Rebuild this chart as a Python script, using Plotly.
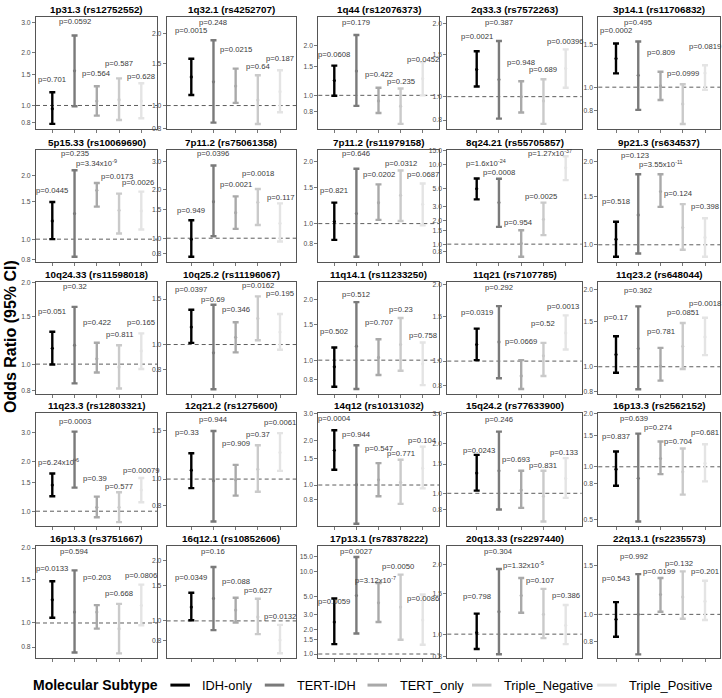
import math
import plotly.graph_objects as go

subtypes = ["IDH-only", "TERT-IDH", "TERT_only", "Triple_Negative", "Triple_Positive"]
colors = ["#000000", "#7a7a7a", "#a9a9a9", "#cacaca", "#e4e4e4"]

titles = [
    "1p31.3 (rs12752552)", "1q32.1 (rs4252707)", "1q44 (rs12076373)", "2q33.3 (rs7572263)", "3p14.1 (rs11706832)",
    "5p15.33 (rs10069690)", "7p11.2 (rs75061358)", "7p11.2 (rs11979158)", "8q24.21 (rs55705857)", "9p21.3 (rs634537)",
    "10q24.33 (rs11598018)", "10q25.2 (rs11196067)", "11q14.1 (rs11233250)", "11q21 (rs7107785)", "11q23.2 (rs648044)",
    "11q23.3 (rs12803321)", "12q21.2 (rs1275600)", "14q12 (rs10131032)", "15q24.2 (rs77633900)", "16p13.3 (rs2562152)",
    "16p13.3 (rs3751667)", "16q12.1 (rs10852606)", "17p13.1 (rs78378222)", "20q13.33 (rs2297440)", "22q13.1 (rs2235573)",
]

odds = [
    [0.957, 1.58, 1.06, 1.08, 1.06], [1.318, 1.257, 1.206, 1.055, 1.143], [1.227, 1.40, 0.925, 0.861, 1.26],
    [1.297, 1.177, 1.0, 0.96, 1.309], [1.312, 1.119, 1.012, 0.853, 1.144],
    [1.219, 1.319, 1.698, 1.367, 1.358], [0.986, 1.686, 1.441, 1.67, 1.238], [1.023, 1.118, 1.264, 1.371, 1.24],
    [4.96, 3.32, 1.02, 2.05, 9.08], [1.048, 1.283, 1.559, 1.155, 1.063],
    [1.145, 1.175, 1.046, 0.975, 1.119], [1.169, 0.929, 1.067, 1.262, 1.118], [0.927, 1.172, 1.031, 1.194, 0.959],
    [1.162, 1.19, 0.874, 1.049, 1.29], [1.116, 1.178, 1.006, 1.202, 1.307],
    [1.442, 2.05, 1.057, 1.057, 1.345], [1.078, 0.986, 0.994, 1.087, 1.25], [1.711, 1.005, 1.085, 1.042, 1.298],
    [1.323, 1.366, 1.047, 0.96, 1.229], [0.97, 0.86, 1.114, 0.937, 1.049],
    [1.239, 1.106, 1.106, 0.949, 1.176], [1.173, 1.295, 1.134, 1.047, 0.802], [2.44, 5.1, 4.17, 3.70, 2.58],
    [1.016, 1.249, 1.467, 1.217, 1.092], [0.96, 1.0, 1.178, 1.155, 1.115],
]
lower = [
    [0.784, 0.99, 0.875, 0.826, 0.844], [1.107, 0.848, 1.026, 0.837, 0.938], [0.995, 0.864, 0.782, 0.673, 1.0],
    [1.102, 0.811, 0.86, 0.771, 1.088], [1.14, 0.806, 0.885, 0.705, 0.975],
    [1.0, 0.826, 1.422, 1.063, 1.11], [0.767, 1.029, 1.142, 1.209, 0.954], [0.834, 0.69, 1.042, 1.03, 0.982],
    [3.65, 1.647, 0.695, 1.296, 6.37], [0.905, 0.93, 1.372, 0.959, 0.905],
    [0.997, 0.849, 0.931, 0.813, 0.959], [1.015, 0.671, 0.932, 1.039, 0.954], [0.739, 0.72, 0.844, 0.886, 0.753],
    [1.009, 0.856, 0.777, 0.874, 1.11], [0.948, 0.817, 0.883, 0.98, 1.11],
    [1.232, 1.39, 0.92, 0.859, 1.133], [0.927, 0.70, 0.87, 0.899, 1.072], [1.265, 0.55, 0.84, 0.747, 0.95],
    [1.037, 0.799, 0.817, 0.677, 0.938], [0.781, 0.49, 0.909, 0.695, 0.827],
    [1.05, 0.761, 0.949, 0.755, 0.979], [1.008, 0.899, 0.981, 0.859, 0.689], [1.318, 1.77, 2.44, 1.486, 1.294],
    [0.863, 0.819, 1.237, 0.961, 0.906], [0.831, 0.719, 1.022, 0.965, 0.955],
]
upper = [
    [1.19, 2.52, 1.29, 1.43, 1.34], [1.57, 1.876, 1.427, 1.34, 1.405], [1.51, 2.31, 1.11, 1.10, 1.585],
    [1.541, 1.70, 1.159, 1.181, 1.57], [1.514, 1.543, 1.158, 1.028, 1.232],
    [1.496, 2.11, 1.836, 1.637, 1.673], [1.292, 2.83, 1.82, 2.02, 1.646], [1.264, 1.845, 1.55, 1.81, 1.566],
    [6.68, 6.62, 1.496, 3.32, 12.7], [1.211, 1.80, 1.80, 1.403, 1.248],
    [1.318, 1.628, 1.20, 1.175, 1.30], [1.363, 1.425, 1.219, 1.535, 1.312], [1.154, 1.936, 1.268, 1.615, 1.222],
    [1.342, 1.645, 1.009, 1.179, 1.513], [1.314, 1.718, 1.185, 1.48, 1.552],
    [1.695, 3.04, 1.226, 1.302, 1.589], [1.243, 1.499, 1.127, 1.329, 1.473], [2.327, 1.848, 1.402, 1.476, 1.81],
    [1.702, 2.347, 1.366, 1.366, 1.626], [1.22, 1.541, 1.39, 1.269, 1.342],
    [1.471, 1.627, 1.18, 1.194, 1.426], [1.382, 1.86, 1.305, 1.29, 0.955], [4.70, 14.9, 7.24, 9.12, 5.25],
    [1.225, 1.906, 1.745, 1.566, 1.334], [1.106, 1.394, 1.349, 1.425, 1.32],
]
pvals = [
    ["0.701", "0.0592", "0.564", "0.587", "0.628"], ["0.0015", "0.248", "0.0215", "0.64", "0.187"],
    ["0.0608", "0.179", "0.422", "0.235", "0.0452"], ["0.0021", "0.387", "0.948", "0.689", "0.00396"],
    ["0.0002", "0.495", "0.809", "0.0999", "0.0819"],
    ["0.0445", "0.235", "3.34x10<sup>-9</sup>", "0.0173", "0.0026"], ["0.949", "0.0396", "0.0021", "0.0018", "0.117"],
    ["0.821", "0.646", "0.0202", "0.0312", "0.0687"], ["1.6x10<sup>-24</sup>", "0.0008", "0.954", "0.0025", "1.27x10<sup>-37</sup>"],
    ["0.518", "0.123", "3.55x10<sup>-11</sup>", "0.124", "0.398"],
    ["0.051", "0.32", "0.422", "0.811", "0.165"], ["0.0397", "0.69", "0.346", "0.0162", "0.195"],
    ["0.502", "0.512", "0.707", "0.23", "0.758"], ["0.0319", "0.292", "0.0669", "0.52", "0.0013"],
    ["0.17", "0.362", "0.781", "0.0851", "0.0018"],
    ["6.24x10<sup>-6</sup>", "0.0003", "0.39", "0.577", "0.00079"], ["0.33", "0.944", "0.909", "0.37", "0.0061"],
    ["0.0004", "0.944", "0.547", "0.771", "0.104"], ["0.0243", "0.246", "0.693", "0.831", "0.133"],
    ["0.837", "0.639", "0.274", "0.704", "0.681"],
    ["0.0133", "0.594", "0.203", "0.668", "0.0806"], ["0.0349", "0.16", "0.088", "0.627", "0.0132"],
    ["0.0059", "0.0027", "3.12x10<sup>-7</sup>", "0.0050", "0.0086"], ["0.798", "0.304", "1.32x10<sup>-5</sup>", "0.107", "0.386"],
    ["0.543", "0.992", "0.0199", "0.132", "0.201"],
]
label_y = [
    [1.40, 3.03, 1.53, 1.74, 1.46], [2.06, 2.23, 1.716, 1.464, 1.57], [1.76, 2.75, 1.33, 1.206, 1.65],
    [1.769, 2.03, 1.381, 1.297, 1.70], [1.71, 1.85, 1.392, 1.137, 1.473],
    [1.698, 2.53, 2.29, 1.967, 1.84], [1.49, 3.36, 2.16, 2.51, 1.785], [1.449, 2.19, 1.733, 1.96, 1.733],
    [10.3, 7.87, 1.87, 4.02, 14.0], [1.434, 2.11, 1.957, 1.537, 1.372],
    [1.566, 1.93, 1.427, 1.292, 1.427], [1.632, 1.494, 1.363, 1.691, 1.571], [1.389, 2.10, 1.532, 1.775, 1.317],
    [1.549, 1.95, 1.197, 1.411, 1.645], [1.561, 1.981, 1.374, 1.623, 1.77],
    [2.0, 3.49, 1.58, 1.416, 1.76], [1.478, 1.653, 1.352, 1.45, 1.607], [2.78, 2.19, 1.765, 1.634, 1.975],
    [1.8, 2.78, 1.604, 1.477, 1.758], [1.476, 1.874, 1.681, 1.39, 1.561],
    [1.652, 1.937, 1.53, 1.313, 1.554], [1.652, 2.22, 1.578, 1.425, 1.051], [4.37, 17.4, 7.94, 11.5, 4.70],
    [1.458, 2.268, 1.99, 1.706, 1.467], [1.339, 1.61, 1.425, 1.525, 1.425],
]
y_ranges = [
    (0.731, 3.2), (0.796, 2.34), (0.625, 2.95), (0.733, 2.13), (0.671, 1.94),
    (0.783, 2.62), (0.714, 3.52), (0.653, 2.27), (0.601, 15.1), (0.868, 2.20),
    (0.776, 2.02), (0.644, 1.752), (0.681, 2.446), (0.743, 2.054), (0.784, 2.146),
    (0.816, 3.92), (0.675, 1.738), (0.533, 3.02), (0.638, 3.02), (0.463, 2.007),
    (0.721, 2.047), (0.65, 2.38), (0.887, 20.5), (0.787, 2.405), (0.696, 1.763),
]
tick_vals = [0.5, 0.8, 1.0, 1.5, 2.0, 3.0, 5.0, 10.0, 15.0]
tick_text = ["0.5", "0.8", "1.0", "1.5", "2.0", "3.0", "5.0", "10.0", "15.0"]

# small horizontal nudges (px) of repelled labels
label_dx = {(5, 3): -2, (5, 4): -3, (8, 0): 9, (8, 2): -3, (8, 3): -2, (8, 4): -16,
            (9, 1): -3, (9, 3): -4, (13, 4): -3, (15, 0): 6, (15, 2): -2, (16, 0): -4,
            (18, 0): 2, (18, 2): -5, (18, 4): -2, (19, 1): -4, (19, 2): -2, (19, 3): -4,
            (22, 2): -3, (22, 3): -3, (23, 2): 2, (23, 3): -3, (24, 1): -4, (24, 2): -2, (24, 3): -4}

W, H = 722, 698
col_box = [(36, 157.3), (166.7, 296), (318.3, 439), (447.3, 581.7), (598.3, 720)]
col_bars = [(52.3, 141.3), (191.3, 280), (334.3, 422.7), (476.7, 565.7), (616, 705)]
row_box = [(14.5, 127.3), (148.5, 261), (281, 394.3), (414, 527.3), (547.3, 661)]

FONT = "Liberation Sans, Arial, sans-serif"
fig = go.Figure()
layout = {}
annotations = []
shapes = []

for k in range(25):
    r, c = divmod(k, 5)
    sfx = "" if k == 0 else str(k + 1)
    xa, ya = "x" + sfx, "y" + sfx
    for i in range(5):
        fig.add_trace(go.Scatter(
            x=[i + 1], y=[odds[k][i]], mode="markers",
            marker=dict(color=colors[i], size=3.2),
            error_y=dict(type="data", symmetric=False,
                         array=[upper[k][i] - odds[k][i]],
                         arrayminus=[odds[k][i] - lower[k][i]],
                         color=colors[i], thickness=2.4, width=3),
            xaxis=xa, yaxis=ya, showlegend=False, hoverinfo="skip"))
    x0, x1 = col_box[c]
    b1, b5 = col_bars[c]
    ppu = (b5 - b1) / 4
    xr = [1 - (b1 - x0) / ppu, 5 + (x1 - b5) / ppu]
    yt, yb = row_box[r]
    lo, hi = y_ranges[k]
    layout["xaxis" + sfx] = dict(
        domain=[x0 / W, x1 / W], range=xr, anchor=ya, tickvals=[1, 2, 3, 4, 5],
        showticklabels=False, ticks="outside", ticklen=3, tickcolor="#555", tickwidth=0.8,
        showgrid=False, zeroline=False, showline=True, mirror=True,
        linecolor="#555", linewidth=1, fixedrange=True)
    layout["yaxis" + sfx] = dict(
        domain=[1 - yb / H, 1 - yt / H], type="log",
        range=[math.log10(lo), math.log10(hi)], anchor=xa,
        tickmode="array", tickvals=tick_vals, ticktext=tick_text,
        tickfont=dict(family=FONT, size=6.8, color="#4d4d4d"),
        ticks="outside", ticklen=3, tickcolor="#555", tickwidth=0.8,
        showgrid=False, zeroline=False, showline=True, mirror=True,
        linecolor="#555", linewidth=1, fixedrange=True)
    # reference line at OR = 1
    shapes.append(dict(type="line", xref=xa + " domain", x0=0, x1=1, yref=ya, y0=1, y1=1,
                       line=dict(color="#333", width=0.8, dash="4px,3px"), layer="below"))
    annotations.append(dict(
        text=titles[k], xref="paper", yref="paper", x=(x0 + x1) / 2 / W, y=1 - yt / H,
        xanchor="center", yanchor="bottom", yshift=0, showarrow=False,
        font=dict(family=FONT, size=9.8, color="#000", weight="bold")))
    for i in range(5):
        annotations.append(dict(
            text="p=" + pvals[k][i], xref=xa, yref=ya, x=i + 1, y=math.log10(label_y[k][i]),
            xanchor="center", yanchor="middle", showarrow=False, opacity=0.999,
            xshift=label_dx.get((k, i), 0),
            font=dict(family=FONT, size=7.7, color="#3a3a3a")))

# y-axis title
annotations.append(dict(text="Odds Ratio (95% CI)", xref="paper", yref="paper",
                        x=10 / W, y=1 - 337 / H, textangle=-90, showarrow=False,
                        xanchor="center", yanchor="middle",
                        font=dict(family=FONT, size=16, color="#000", weight="bold")))

# legend (bottom)
leg_y = 1 - 688 / H
annotations.append(dict(text="Molecular Subtype", xref="paper", yref="paper", x=31 / W, y=leg_y,
                        xanchor="left", yanchor="middle", showarrow=False,
                        font=dict(family=FONT, size=14, color="#000", weight="bold")))
key_x = [170.4, 264.8, 367.5, 472, 597.2]
for i, name in enumerate(subtypes):
    shapes.append(dict(type="line", xref="paper", yref="paper",
                       x0=key_x[i] / W, x1=(key_x[i] + 19.5) / W, y0=leg_y, y1=leg_y,
                       line=dict(color=colors[i], width=3)))
    annotations.append(dict(text=name, xref="paper", yref="paper", x=(key_x[i] + 30) / W, y=leg_y,
                            xanchor="left", yanchor="middle", showarrow=False,
                            font=dict(family=FONT, size=12.8, color="#000")))

fig.update_layout(**layout)
fig.update_layout(width=W, height=H, margin=dict(l=0, r=0, t=0, b=0),
                  paper_bgcolor="white", plot_bgcolor="white",
                  annotations=annotations, shapes=shapes, showlegend=False)
fig.write_html("out.html", config={"displayModeBar": False, "staticPlot": True},
               post_script="document.body.style.margin='0';document.body.style.padding='0';"
                           "document.body.style.overflow='hidden';"
                           "document.documentElement.style.overflow='hidden';")
